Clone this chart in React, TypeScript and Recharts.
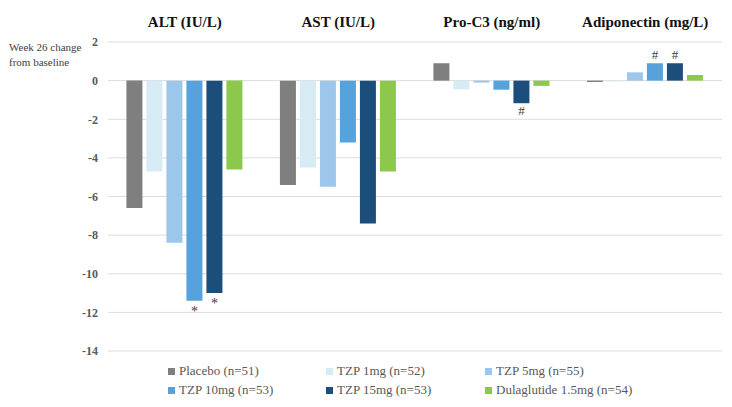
import { BarChart, Bar, XAxis, YAxis, CartesianGrid, LabelList } from 'recharts';

const categories = ['ALT (IU/L)', 'AST (IU/L)', 'Pro-C3 (ng/ml)', 'Adiponectin (mg/L)'];

const placebo = [-6.6, -5.4, 0.9, -0.07];
const tzp1 = [-4.7, -4.5, -0.45, -0.04];
const tzp5 = [-8.4, -5.5, -0.1, 0.43];
const tzp10 = [-11.4, -3.2, -0.47, 0.9];
const tzp15 = [-11.0, -7.4, -1.17, 0.9];
const dula = [-4.6, -4.7, -0.27, 0.29];

const tzp10Marks = ['*', '', '', '#'];
const tzp15Marks = ['*', '', '#', '#'];

const yTicks = [2, 0, -2, -4, -6, -8, -10, -12, -14];

const series = [
  { key: 'placebo', name: 'Placebo (n=51)', color: '#7f7f7f', values: placebo, marks: null },
  { key: 'tzp1', name: 'TZP 1mg (n=52)', color: '#d6ebf4', values: tzp1, marks: null },
  { key: 'tzp5', name: 'TZP 5mg (n=55)', color: '#9cc6ea', values: tzp5, marks: null },
  { key: 'tzp10', name: 'TZP 10mg (n=53)', color: '#55a2dd', values: tzp10, marks: tzp10Marks },
  { key: 'tzp15', name: 'TZP 15mg (n=53)', color: '#1c4e7c', values: tzp15, marks: tzp15Marks },
  { key: 'dula', name: 'Dulaglutide 1.5mg (n=54)', color: '#8cc84b', values: dula, marks: null },
];

const chartData = categories.map((cat, i) => {
  const row: Record<string, any> = { cat };
  series.forEach((s) => {
    row[s.key] = s.values[i];
  });
  return row;
});

const font = '"Liberation Serif", "DejaVu Serif", serif';

function TitleTick(props: any) {
  const { x, payload } = props;
  return (
    <text x={x} y={27} textAnchor="middle" fontFamily={font} fontSize={15} fontWeight="bold" fill="#111">
      {payload.value}
    </text>
  );
}

function markLabel(marks: string[]) {
  return (props: any) => {
    const { x, y, width, height, index, value } = props;
    const m = marks[index];
    if (!m) return null;
    const top = Math.min(y, y + height);
    const bottom = Math.max(y, y + height);
    const cx = x + width / 2;
    const ty = value < 0 ? bottom + (m === '*' ? 15 : 12) : top - 4;
    return (
      <text x={cx} y={ty} textAnchor="middle" fontFamily={font} fontSize={m === '*' ? 14 : 13} fill="#404040">
        {m}
      </text>
    );
  };
}

function CustomLegend() {
  return (
    <div
      style={{
        position: 'absolute',
        left: 168,
        top: 363,
        display: 'grid',
        gridTemplateColumns: '158px 159px 200px',
        rowGap: 3,
        fontFamily: font,
        fontSize: 13,
        color: '#595959',
      }}
    >
      {series.map((s) => (
        <div key={s.key} style={{ display: 'flex', alignItems: 'center', gap: 4, whiteSpace: 'nowrap' }}>
          <div style={{ width: 7, height: 7, background: s.color }} />
          <span>{s.name}</span>
        </div>
      ))}
    </div>
  );
}

export default function App() {
  return (
    <div style={{ position: 'relative', width: 732, height: 407, margin: -8, background: '#fff' }}>
      <div
        style={{
          position: 'absolute',
          left: 9,
          top: 40,
          fontFamily: font,
          fontSize: 11,
          color: '#404040',
          lineHeight: '15px',
        }}
      >
        Week 26 change
        <br />
        from baseline
      </div>
      <BarChart
        width={732}
        height={407}
        data={chartData}
        margin={{ top: 0, right: 10, bottom: 56, left: 0 }}
        barCategoryGap="12%"
        barGap={4}
      >
        <CartesianGrid vertical={false} stroke="#dcdcdc" />
        <XAxis
          dataKey="cat"
          orientation="top"
          height={42}
          axisLine={false}
          tickLine={false}
          tick={<TitleTick />}
          interval={0}
        />
        <YAxis
          domain={[-14, 2]}
          ticks={yTicks}
          width={108}
          axisLine={false}
          tickLine={false}
          tickMargin={4}
          tick={{ fontFamily: font, fontSize: 12, fontWeight: 'bold', fill: '#595959' }}
        />
        {series.map((s) => (
          <Bar key={s.key} dataKey={s.key} name={s.name} fill={s.color} isAnimationActive={false}>
            {s.marks && <LabelList dataKey={s.key} content={markLabel(s.marks)} />}
          </Bar>
        ))}
      </BarChart>
      <CustomLegend />
    </div>
  );
}
